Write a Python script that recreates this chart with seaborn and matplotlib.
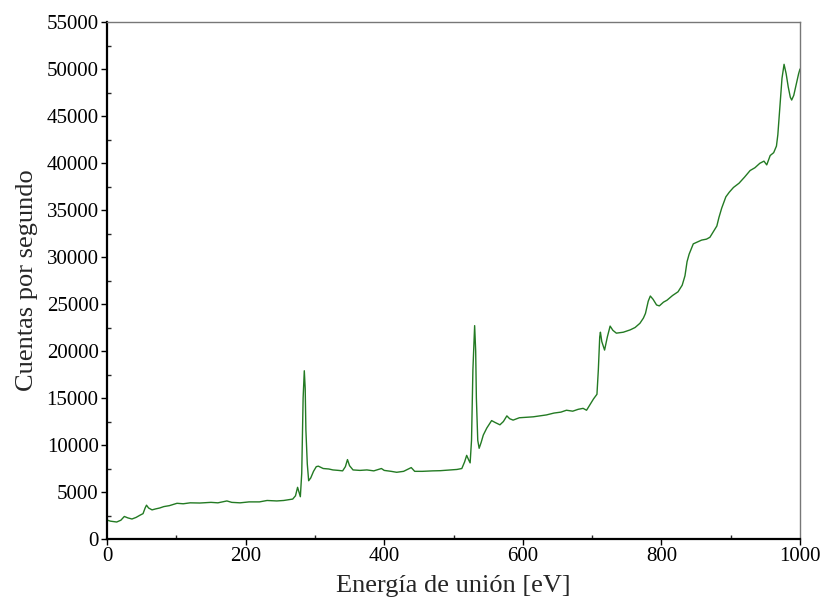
import matplotlib
matplotlib.use("Agg")
import matplotlib.pyplot as plt
from matplotlib.ticker import MultipleLocator
import seaborn as sns
import pandas as pd

energy = [0, 5, 14, 20, 25, 30, 36, 42, 48, 52, 55, 57, 60, 65, 70, 76, 82, 90, 101, 110,
          120, 134, 150, 160, 173, 180, 192, 205, 220, 231, 245, 255, 268, 272, 275, 277,
          279, 281, 283, 284.7, 286, 287, 289, 291, 294, 298, 302, 305, 312, 320, 326, 334,
          340, 344, 347, 350, 355, 365, 375, 385, 396, 400, 410, 418, 428, 439, 444, 455,
          470, 481, 495, 505, 512, 516, 519, 522, 524, 526, 528, 530.5, 532, 533, 535, 537,
          540, 543, 548, 555, 560, 567, 572, 577, 581, 586, 595, 605, 615, 625, 634, 645,
          655, 663, 672, 680, 687, 692, 697, 702, 707, 709, 711, 712, 714, 718, 722, 726,
          730, 735, 745, 755, 762, 769, 774, 777, 781, 784, 788, 793, 797, 803, 808, 816,
          824, 830, 834, 837, 840, 846, 852, 858, 865, 870, 875, 880, 883, 887, 893, 898,
          904, 912, 920, 928, 935, 942, 948, 952, 957, 962, 966, 968, 971, 974, 977, 980,
          983, 986, 988, 991, 995, 998, 1000]
counts = [2020, 1900, 1810, 2000, 2400, 2250, 2130, 2300, 2550, 2700, 3300, 3600, 3300, 3100,
          3200, 3300, 3450, 3550, 3800, 3750, 3850, 3830, 3900, 3850, 4050, 3900, 3850, 3950,
          3950, 4100, 4050, 4100, 4250, 4600, 5500, 5000, 4500, 7000, 15000, 17900, 16000,
          11600, 8000, 6200, 6500, 7200, 7700, 7750, 7500, 7450, 7350, 7300, 7250, 7700, 8450,
          7800, 7350, 7300, 7350, 7250, 7500, 7300, 7200, 7100, 7200, 7600, 7200, 7200, 7250,
          7270, 7350, 7400, 7500, 8200, 8900, 8400, 8100, 10500, 18000, 22700, 20000, 15000,
          10500, 9650, 10300, 11060, 11800, 12600, 12400, 12150, 12500, 13100, 12800, 12650,
          12900, 12950, 13000, 13100, 13200, 13400, 13500, 13700, 13600, 13800, 13900, 13700,
          14300, 14900, 15400, 18000, 21500, 22000, 21000, 20100, 21500, 22650, 22200, 21900,
          22000, 22250, 22500, 22950, 23500, 24000, 25300, 25850, 25500, 24900, 24800, 25200,
          25400, 25900, 26300, 27000, 28000, 29500, 30300, 31400, 31600, 31800, 31900, 32100,
          32700, 33300, 34200, 35200, 36400, 36900, 37400, 37850, 38500, 39200, 39500, 39970,
          40200, 39800, 40800, 41100, 41800, 43000, 46000, 49000, 50500, 49500, 48100, 47000,
          46700, 47200, 48500, 49500, 50000]

x_ticks = [0, 200, 400, 600, 800, 1000]
y_ticks = list(range(0, 55001, 5000))

df = pd.DataFrame({"energy": energy, "counts": counts})

sns.set_style("ticks")
plt.rcParams["font.family"] = ["Liberation Serif", "DejaVu Serif"]

fig = plt.figure(figsize=(8.25, 6.03), dpi=100)
ax = fig.add_axes([0.1297, 0.1061, 0.8400, 0.8574])

sns.lineplot(data=df, x="energy", y="counts", ax=ax, color="#237a23", linewidth=1.0)

ax.set_xlim(0, 1000)
ax.set_ylim(0, 55000)
ax.set_xticks(x_ticks)
ax.set_yticks(y_ticks)
ax.xaxis.set_minor_locator(MultipleLocator(100))
ax.yaxis.set_minor_locator(MultipleLocator(2500))
ax.tick_params(axis="both", which="major", direction="out", length=4, width=1.0,
               labelsize=15, colors="black", pad=2)
ax.tick_params(axis="both", which="minor", direction="in", length=3, width=1.0)

for side in ["left", "bottom"]:
    ax.spines[side].set_color("black")
    ax.spines[side].set_linewidth(1.6)
for side in ["top", "right"]:
    ax.spines[side].set_visible(True)
    ax.spines[side].set_color("#777777")
    ax.spines[side].set_linewidth(1.0)

ax.set_xlabel("Energía de unión [eV]", fontsize=19, labelpad=6)
ax.set_ylabel("Cuentas por segundo", fontsize=19, labelpad=6)

fig.savefig("out.png", dpi=100)
